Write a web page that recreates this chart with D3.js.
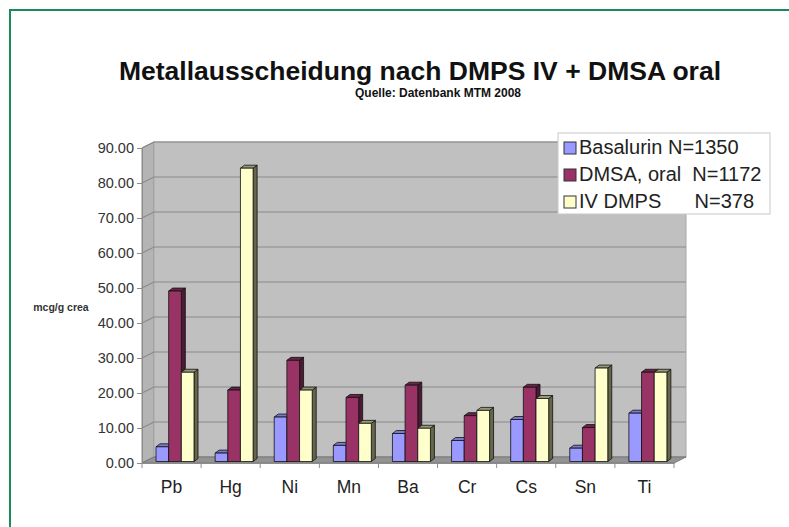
<!DOCTYPE html>
<html>
<head>
<meta charset="utf-8">
<script src="https://cdn.jsdelivr.net/npm/d3@7"></script>
<style>
  html, body { margin: 0; padding: 0; background: #fff; overflow: hidden; }
  svg { display: block; font-family: "Liberation Sans", Arial, sans-serif; }
</style>
</head>
<body>
<svg id="chart" width="789" height="527"></svg>
<script>
// Chart data
var categories = ['Pb', 'Hg', 'Ni', 'Mn', 'Ba', 'Cr', 'Cs', 'Sn', 'Ti'];
var basalurin = [4.2, 2.4, 12.7, 4.6, 8.0, 6.0, 12.0, 3.8, 13.8];
var dmsaOral = [48.7, 20.4, 28.9, 18.3, 21.8, 13.1, 21.2, 9.7, 25.5];
var ivDmps = [25.5, 83.8, 20.4, 10.9, 9.5, 14.6, 18.0, 26.7, 25.5];
var seriesNames = ['Basalurin N=1350', 'DMSA, oral  N=1172', 'IV DMPS      N=378'];
var yTickValues = [0, 10, 20, 30, 40, 50, 60, 70, 80, 90];

var series = [
  {name: seriesNames[0], values: basalurin, front: '#9999ff', side: '#5c5c99', cap: '#7a7acc'},
  {name: seriesNames[1], values: dmsaOral, front: '#993366', side: '#4d1a33', cap: '#6b2447'},
  {name: seriesNames[2], values: ivDmps, front: '#ffffcc', side: '#66664d', cap: '#99997a'}
];

const svg = d3.select('#chart');

// green frame (only left and top edges are in view)
svg.append('path')
  .attr('d', 'M10,800 L10,10 L800,10')
  .attr('fill', 'none')
  .attr('stroke', '#1a8a5a')
  .attr('stroke-width', 2);

// 3d depth of the walls
var depthX = 12, depthY = -6;
var plotLeft = 142, plotRight = 674;

var yScale = d3.scaleLinear().domain([0, 90]).range([463, 148]);
var xScale = d3.scaleBand().domain(categories).range([plotLeft, plotRight]);
var x1 = d3.scaleBand().domain(series.map(s => s.name)).range([0, 38]);

var yBase = yScale(0), yTop = yScale(90);

function pts(arr) {
  return arr.map(p => p.join(',')).join(' ');
}

// side wall
svg.append('polygon')
  .attr('points', pts([[plotLeft, yBase], [plotLeft + depthX, yBase + depthY], [plotLeft + depthX, yTop + depthY], [plotLeft, yTop]]))
  .attr('fill', '#b4b4b4')
  .attr('stroke', '#8c8c8c');

// back wall
svg.append('rect')
  .attr('x', plotLeft + depthX)
  .attr('y', yTop + depthY)
  .attr('width', plotRight - plotLeft)
  .attr('height', yBase - yTop)
  .attr('fill', '#c0c0c0')
  .attr('stroke', '#a8a8a8');

// gridlines
var grid = svg.append('g');
yTickValues.forEach(function(t) {
  var yy = yScale(t);
  grid.append('polyline')
    .attr('points', pts([[plotLeft, yy], [plotLeft + depthX, yy + depthY], [plotRight + depthX, yy + depthY]]))
    .attr('fill', 'none')
    .attr('stroke', '#8a8a8a')
    .attr('stroke-width', 1.2);
});

// floor
svg.append('polygon')
  .attr('points', pts([[plotLeft, yBase], [plotRight, yBase], [plotRight + depthX, yBase + depthY], [plotLeft + depthX, yBase + depthY]]))
  .attr('fill', '#939393')
  .attr('stroke', '#7a7a7a');

// y axis
const yAxis = d3.axisLeft(yScale)
  .tickValues(yTickValues)
  .tickFormat(d3.format('.2f'))
  .tickSizeOuter(0)
  .tickSize(5)
  .tickPadding(3);

svg.append('g')
  .attr('transform', 'translate(' + plotLeft + ',0)')
  .call(yAxis)
  .call(g => g.select('.domain').attr('stroke', '#8c8c8c'))
  .call(g => g.selectAll('.tick line').attr('stroke', '#8c8c8c'))
  .call(g => g.selectAll('text')
    .attr('font-size', 14.5)
    .attr('fill', '#333')
    .attr('font-family', '"Liberation Sans", Arial, sans-serif'));

// x axis: labels and ticks between categories
const xAxis = d3.axisBottom(xScale).tickSize(0).tickPadding(18);
svg.append('g')
  .attr('transform', 'translate(0,' + yBase + ')')
  .call(xAxis)
  .call(g => g.select('.domain').attr('stroke', '#8c8c8c'))
  .call(g => g.selectAll('text')
    .attr('font-size', 17.5)
    .attr('fill', '#222')
    .attr('font-family', '"Liberation Sans", Arial, sans-serif'));

svg.append('g')
  .selectAll('line')
  .data(categories.concat(['end']))
  .enter()
  .append('line')
  .attr('x1', d => d == 'end' ? plotRight : xScale(d))
  .attr('x2', d => d == 'end' ? plotRight : xScale(d))
  .attr('y1', yBase)
  .attr('y2', yBase + 5)
  .attr('stroke', '#8c8c8c');

// bars
var barDx = 4, barDy = -3;
var offX = 14, offY = -1.5;
var bw = x1.bandwidth();

var barGroup = svg.append('g');
categories.forEach(function(cat, i) {
  series.forEach(function(s) {
    var x0 = xScale(cat) + offX + x1(s.name);
    var y0 = yBase + offY;
    var yt = yScale(s.values[i]) + offY;
    var g = barGroup.append('g').attr('stroke', '#111').attr('stroke-width', 0.8).attr('stroke-linejoin', 'round');
    g.append('polygon')
      .attr('points', pts([[x0 + bw, yt], [x0 + bw + barDx, yt + barDy], [x0 + bw + barDx, y0 + barDy], [x0 + bw, y0]]))
      .attr('fill', s.side);
    g.append('polygon')
      .attr('points', pts([[x0, yt], [x0 + barDx, yt + barDy], [x0 + bw + barDx, yt + barDy], [x0 + bw, yt]]))
      .attr('fill', s.cap);
    g.append('rect')
      .attr('x', x0).attr('y', yt)
      .attr('width', bw).attr('height', y0 - yt)
      .attr('fill', s.front);
  });
});

// titles
svg.append('text')
  .attr('x', 420).attr('y', 80)
  .attr('text-anchor', 'middle')
  .attr('font-size', 26.5)
  .attr('font-weight', 'bold')
  .attr('fill', '#111')
  .text('Metallausscheidung nach DMPS IV + DMSA oral');

svg.append('text')
  .attr('x', 438).attr('y', 97)
  .attr('text-anchor', 'middle')
  .attr('font-size', 12)
  .attr('font-weight', 'bold')
  .attr('fill', '#111')
  .text('Quelle: Datenbank MTM 2008');

svg.append('text')
  .attr('x', 61).attr('y', 311)
  .attr('text-anchor', 'middle')
  .attr('font-size', 10.5)
  .attr('font-weight', 'bold')
  .attr('fill', '#333')
  .text('mcg/g crea');

// legend
var legend = svg.append('g').attr('transform', 'translate(558,133)');
legend.append('rect')
  .attr('width', 212).attr('height', 81)
  .attr('fill', '#fff')
  .attr('stroke', '#c8c8c8');

var items = legend.selectAll('.item')
  .data(series)
  .enter()
  .append('g')
  .attr('transform', (d, i) => 'translate(0,' + (21 + i * 27) + ')');

items.append('rect')
  .attr('x', 6).attr('y', -12)
  .attr('width', 12).attr('height', 12)
  .attr('fill', d => d.front)
  .attr('stroke', '#333');

items.append('text')
  .attr('x', 21).attr('y', 0)
  .attr('font-size', 20)
  .attr('fill', '#222')
  .style('white-space', 'pre')
  .text(d => d.name);
</script>
</body>
</html>
